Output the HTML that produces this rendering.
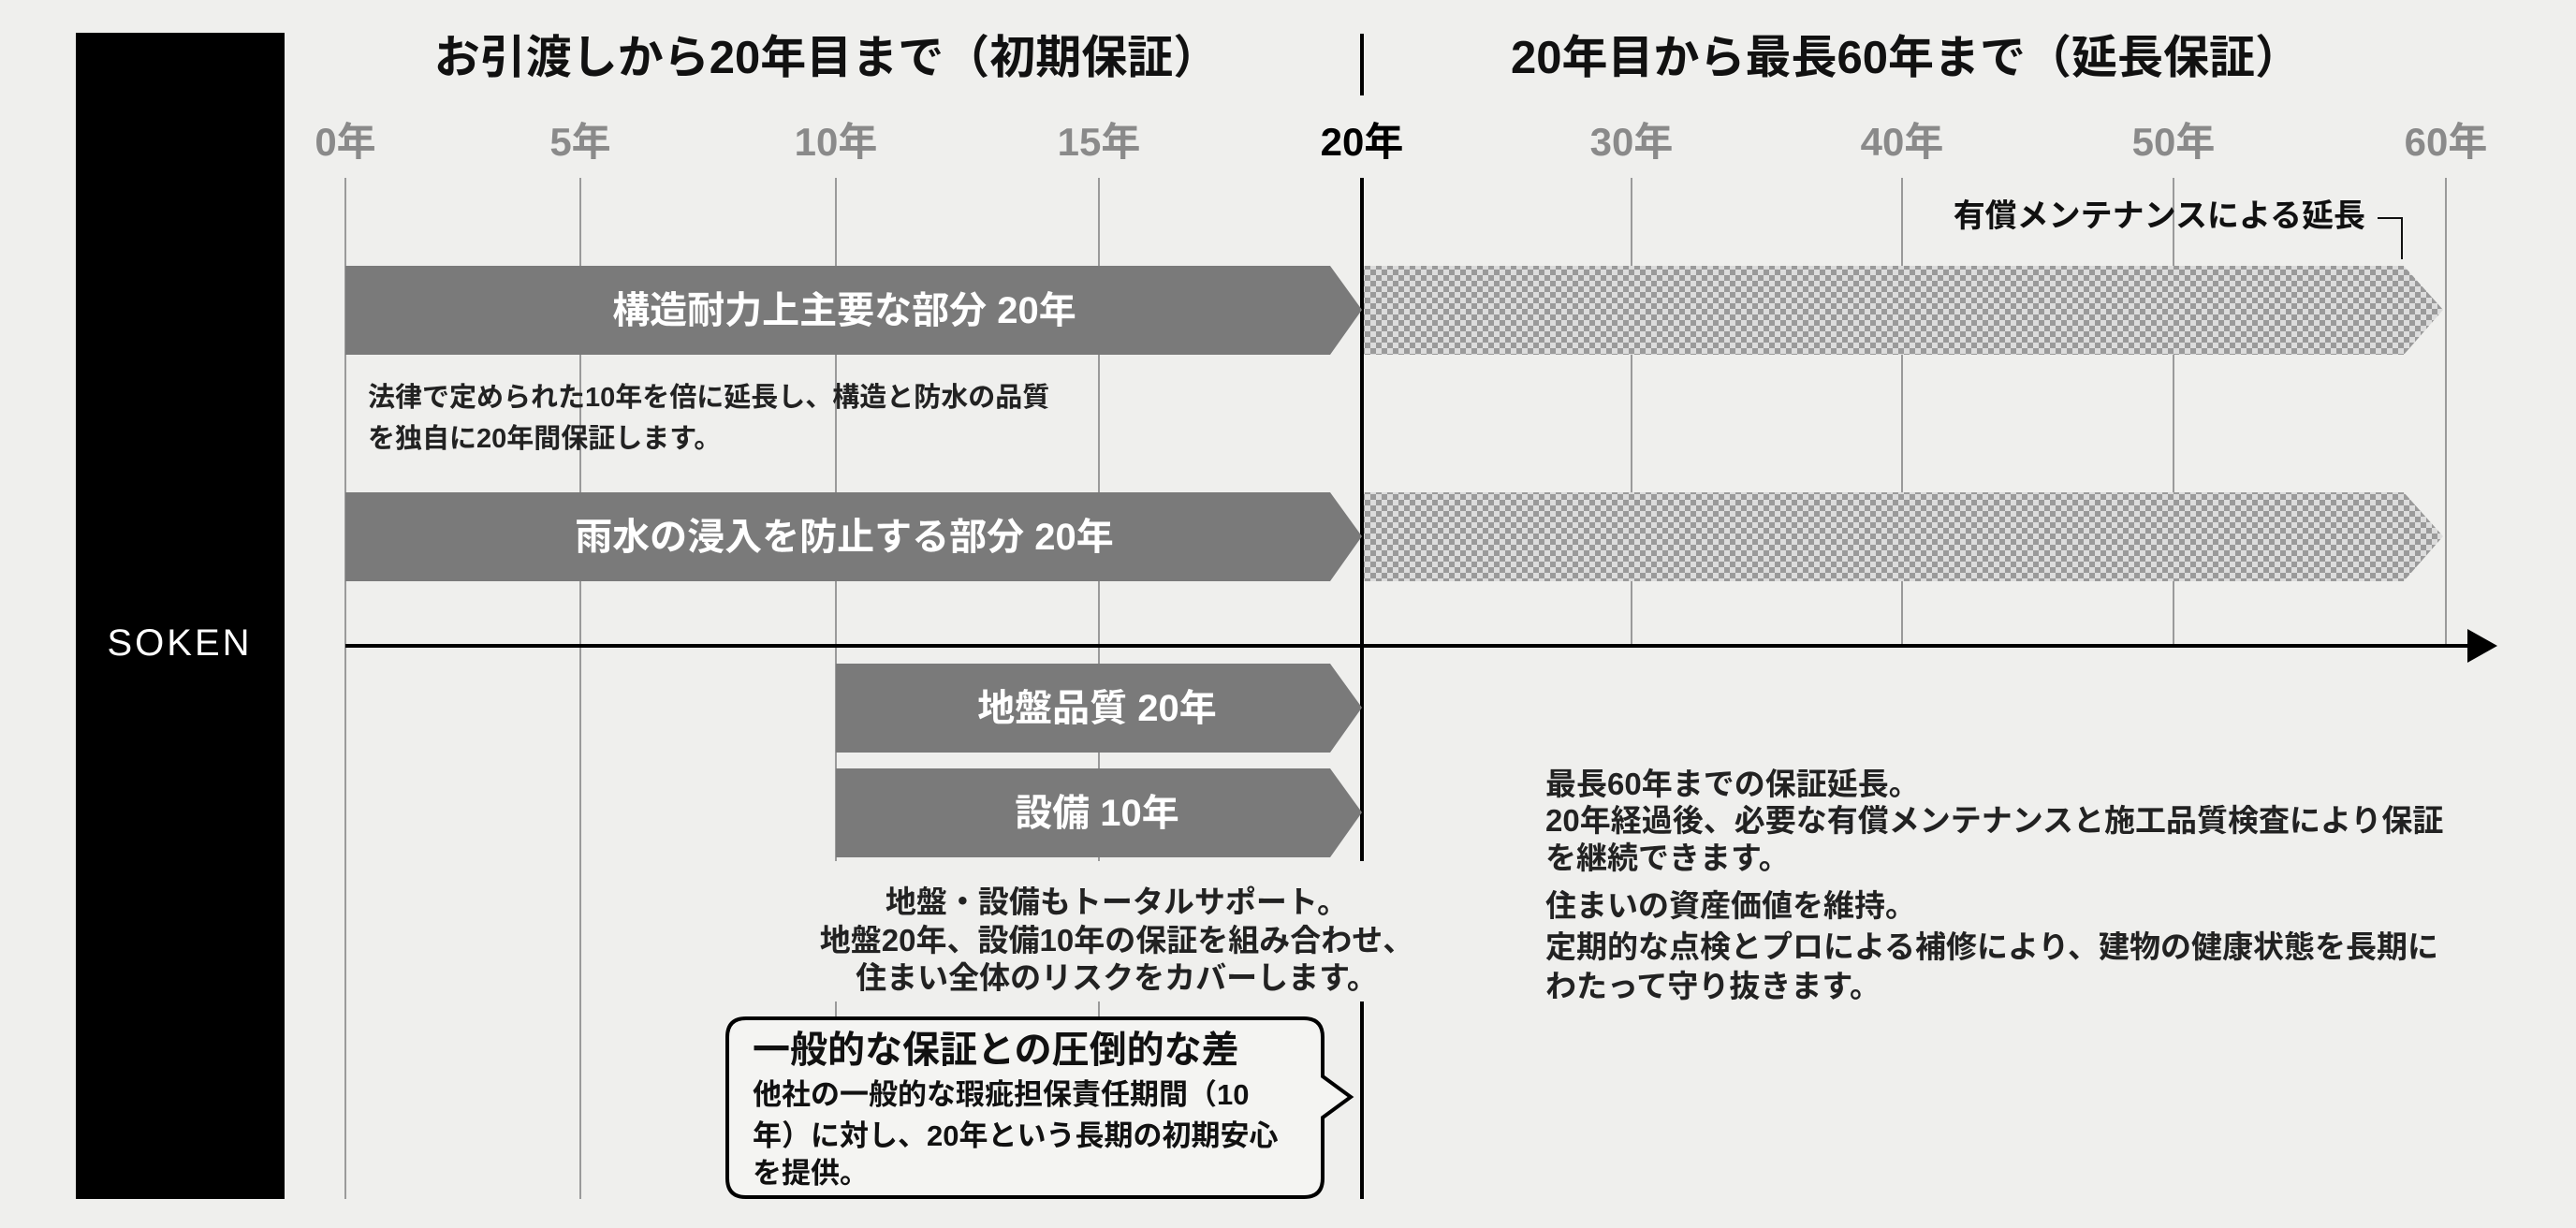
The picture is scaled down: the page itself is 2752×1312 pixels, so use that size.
<!DOCTYPE html>
<html><head><meta charset="utf-8">
<style>
html,body{margin:0;padding:0;background:#efefed;}
svg{display:block;}
text{font-family:"Liberation Sans","Noto Sans CJK JP",sans-serif;font-weight:bold;}
</style></head>
<body>
<svg width="2752" height="1312" viewBox="0 0 2752 1312" xmlns="http://www.w3.org/2000/svg">
<defs>
<pattern id="chk" width="12" height="12" patternUnits="userSpaceOnUse">
<rect width="12" height="12" fill="#dcdcdc"/>
<rect width="6" height="6" fill="#9a9a9a"/>
<rect x="6" y="6" width="6" height="6" fill="#9a9a9a"/>
</pattern>
</defs>
<rect width="2752" height="1312" fill="#efefed"/>
<!-- sidebar -->
<rect x="81" y="35" width="223" height="1246" fill="#000"/>
<text x="192" y="700" fill="#fff" font-size="40" text-anchor="middle" style="font-weight:normal;letter-spacing:3px">SOKEN</text>

<!-- headers -->
<text x="883" y="78" font-size="49" text-anchor="middle" fill="#111">お引渡しから20年目まで（初期保証）</text>
<text x="2036" y="78" font-size="49" text-anchor="middle" fill="#111">20年目から最長60年まで（延長保証）</text>
<line x1="1455" y1="36" x2="1455" y2="102" stroke="#000" stroke-width="4"/>

<!-- year labels -->
<g font-size="42" text-anchor="middle" fill="#8a8a8a">
<text x="369" y="166">0年</text>
<text x="620" y="166">5年</text>
<text x="893" y="166">10年</text>
<text x="1174" y="166">15年</text>
<text x="1455" y="166" fill="#000">20年</text>
<text x="1743" y="166">30年</text>
<text x="2032" y="166">40年</text>
<text x="2322" y="166">50年</text>
<text x="2613" y="166">60年</text>
</g>

<!-- gridlines -->
<g stroke="#9a9a9a" stroke-width="2">
<line x1="369" y1="190" x2="369" y2="1281"/>
<line x1="620" y1="190" x2="620" y2="1281"/>
<line x1="893" y1="190" x2="893" y2="1281"/>
<line x1="1174" y1="190" x2="1174" y2="1281"/>
<line x1="1743" y1="190" x2="1743" y2="690"/>
<line x1="2032" y1="190" x2="2032" y2="690"/>
<line x1="2322" y1="190" x2="2322" y2="690"/>
<line x1="2613" y1="190" x2="2613" y2="690"/>
</g>
<line x1="1455" y1="190" x2="1455" y2="1281" stroke="#000" stroke-width="4"/>

<!-- checkered extension bars -->
<polygon points="1457,284 2568,284 2610,331 2568,379 1457,379" fill="url(#chk)"/>
<polygon points="1457,526 2568,526 2610,573 2568,621 1457,621" fill="url(#chk)"/>

<!-- solid bars -->
<g fill="#7a7a7a">
<polygon points="369,284 1421,284 1455,331 1421,379 369,379"/>
<polygon points="369,526 1421,526 1455,573 1421,621 369,621"/>
<polygon points="893,709 1421,709 1455,756 1421,804 893,804"/>
<polygon points="893,821 1421,821 1455,868 1421,916 893,916"/>
</g>
<g fill="#fff" font-size="40" text-anchor="middle">
<text x="902" y="345">構造耐力上主要な部分 20年</text>
<text x="902" y="587">雨水の浸入を防止する部分 20年</text>
<text x="1172" y="770">地盤品質 20年</text>
<text x="1172" y="882">設備 10年</text>
</g>

<!-- axis -->
<line x1="369" y1="690" x2="2640" y2="690" stroke="#000" stroke-width="4"/>
<polygon points="2636,672 2668,690 2636,708" fill="#000"/>

<!-- maintenance label -->
<text x="2527" y="242" font-size="34" text-anchor="end" fill="#111">有償メンテナンスによる延長</text>
<polyline points="2540,233 2566,233 2566,277" fill="none" stroke="#111" stroke-width="2"/>

<!-- descriptions -->
<g font-size="29" fill="#222">
<text x="393" y="434">法律で定められた10年を倍に延長し、構造と防水の品質</text>
<text x="393" y="478">を独自に20年間保証します。</text>
</g>
<rect x="860" y="920" width="620" height="150" fill="#efefed"/>
<g font-size="33" fill="#222" text-anchor="middle">
<text x="1193" y="975">地盤・設備もトータルサポート。</text>
<text x="1193" y="1016">地盤20年、設備10年の保証を組み合わせ、</text>
<text x="1193" y="1056">住まい全体のリスクをカバーします。</text>
</g>
<g font-size="33" fill="#222">
<text x="1651" y="849">最長60年までの保証延長。</text>
<text x="1651" y="888">20年経過後、必要な有償メンテナンスと施工品質検査により保証</text>
<text x="1651" y="928">を継続できます。</text>
<text x="1651" y="979">住まいの資産価値を維持。</text>
<text x="1651" y="1023">定期的な点検とプロによる補修により、建物の健康状態を長期に</text>
<text x="1651" y="1065">わたって守り抜きます。</text>
</g>

<!-- callout -->
<path d="M797,1088 H1393 Q1413,1088 1413,1108 V1150 L1443,1172 L1413,1194 V1259 Q1413,1279 1393,1279 H797 Q777,1279 777,1259 V1108 Q777,1088 797,1088 Z" fill="#f4f4f2" stroke="#000" stroke-width="4"/>
<text x="804" y="1135" font-size="40" fill="#111">一般的な保証との圧倒的な差</text>
<g font-size="31" fill="#111">
<text x="804" y="1180">他社の一般的な瑕疵担保責任期間（10</text>
<text x="804" y="1224">年）に対し、20年という長期の初期安心</text>
<text x="804" y="1264">を提供。</text>
</g>
</svg>
</body></html>
